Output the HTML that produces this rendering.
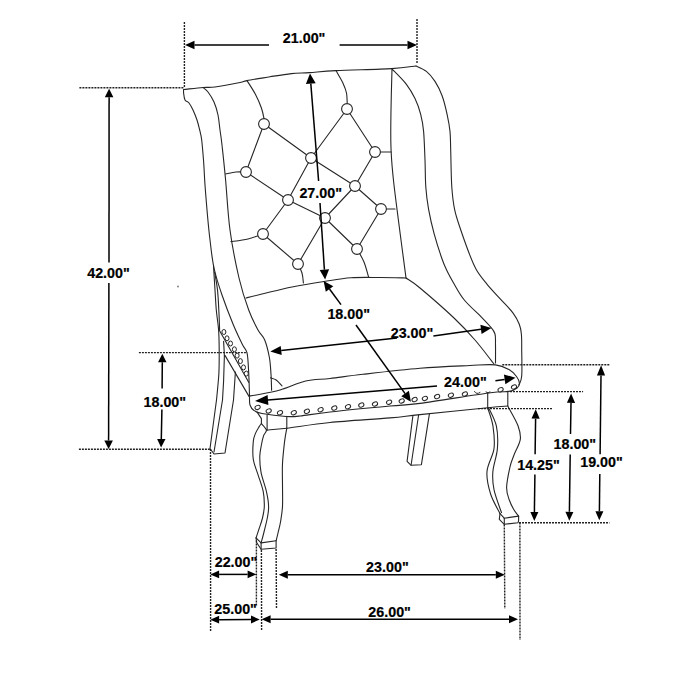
<!DOCTYPE html>
<html><head><meta charset="utf-8"><style>
html,body{margin:0;padding:0;background:#fff;width:700px;height:700px;overflow:hidden}
svg{display:block}
text{font-family:"Liberation Sans",sans-serif}
</style></head><body>
<svg width="700" height="700" viewBox="0 0 700 700"><path d="M183.6,89.5 C186.8,89.2 197.8,87.9 203,87.5 C208.2,87.1 208.8,87.8 215,87 C221.2,86.2 234.7,83.6 240,82.5 C245.3,81.4 242,81.5 247,80.6 C252,79.6 262.6,78 270,76.8 C277.4,75.6 284.8,74.3 291.4,73.6 C298,72.9 302,73.1 309.4,72.6 C316.8,72.1 322.3,71.3 336,70.6 C349.7,69.9 378.2,69.4 391.5,68.6 C404.8,67.8 411.9,66.4 416,66" fill="none" stroke="#262626" stroke-width="1.1" stroke-linejoin="round" stroke-linecap="round"/>
<path d="M416,66 C417.7,66.9 423.2,68.8 426.4,71.4 C429.6,74 432.4,77.4 435,81.4 C437.6,85.5 440.1,90.2 442.1,95.7 C444.1,101.2 445.8,108.3 447.1,114.3 C448.4,120.2 449.4,125.5 450,131.4 C450.6,137.3 450.4,140.7 450.7,150 C451,159.3 451.1,177.1 451.8,187 C452.5,196.9 453.2,202.6 454.6,209.4 C456,216.2 457.6,220.6 460.1,228 C462.6,235.4 466.7,247 469.4,254 C472.1,261 473.6,264.9 476.5,270 C479.4,275.1 483.2,279.5 487.1,284.3 C491,289.1 495.7,293.8 500,298.6 C504.3,303.4 509.7,308.6 512.9,312.9 C516.1,317.2 517.9,320.7 519.3,324.3 C520.7,327.9 521,330 521.4,334.3 C521.8,338.6 521.7,343.1 521.7,350 C521.8,356.9 522.2,370.2 521.7,376 C521.2,381.8 519.5,383.5 519,385" fill="none" stroke="#262626" stroke-width="1.1" stroke-linejoin="round" stroke-linecap="round"/>
<path d="M392,69 C394.4,71.5 402.6,79.4 406.4,84.3 C410.2,89.2 412.6,93.6 415,98.6 C417.4,103.6 419.3,108.8 420.7,114.3 C422.1,119.8 422.9,123.8 423.6,131.4 C424.3,139 424.6,150.7 425,160 C425.4,169.3 425.2,178.8 425.8,187 C426.4,195.2 427.2,201.6 428.6,209.4 C430,217.2 431.9,225.6 434.1,233.6 C436.3,241.6 439.5,251.6 441.6,257.7 C443.7,263.8 444.5,265.6 446.6,270 C448.7,274.4 451.4,279.3 454.3,284.3 C457.2,289.3 459.8,294.5 464.3,300 C468.8,305.5 477,312.6 481.4,317.1 C485.8,321.6 488.4,324.3 490.7,327.1 C493,329.9 494.2,331 495,334 C495.8,337 495.4,340.2 495.5,345 C495.6,349.8 495.5,360 495.5,363" fill="none" stroke="#262626" stroke-width="1.1" stroke-linejoin="round" stroke-linecap="round"/>
<path d="M392,69 C391.8,75.8 391.2,96.8 391,110 C390.8,123.2 390.5,135.5 391,148 C391.5,160.5 391.5,163.3 394,185 C396.5,206.7 404,262.5 406,278" fill="none" stroke="#262626" stroke-width="1.1" stroke-linejoin="round" stroke-linecap="round"/>
<path d="M406,278 C408.3,279.7 412,281.3 420,288 C428,294.7 444.8,309.3 454,318 C463.2,326.7 468.3,332.3 475,340 C481.7,347.7 490.8,360 494,364" fill="none" stroke="#262626" stroke-width="1.1" stroke-linejoin="round" stroke-linecap="round"/>
<path d="M246,298 C248.7,297.3 254.3,295.8 262,294 C269.7,292.2 281.7,289.1 292,287 C302.3,284.9 314.2,283 324,281.5 C333.8,280 341.7,278.5 351,277.8 C360.3,277.1 370.8,277.5 380,277.5 C389.2,277.5 401.7,277.9 406,278" fill="none" stroke="#262626" stroke-width="1.1" stroke-linejoin="round" stroke-linecap="round"/>
<path d="M183.6,89.5 C183.6,90.1 183.4,91.2 183.6,93 C183.8,94.8 184.1,98.3 185,100 C185.9,101.7 187.7,101.3 189,103 C190.3,104.7 191.7,107.2 193,110 C194.3,112.8 195.9,116.7 197,120 C198.1,123.3 198.9,126.7 199.7,130 C200.5,133.3 201.1,135 201.7,140 C202.3,145 202.9,152.5 203.5,160 C204.1,167.5 204.4,176.7 205,185 C205.6,193.3 206.2,200.8 207,210 C207.8,219.2 208.8,230.3 210,240 C211.2,249.7 212,258.8 214,268 C216,277.2 218.8,285.7 222,295 C225.2,304.3 229.6,315.7 233,324 C236.4,332.3 240.1,339.7 242.4,344.6 C244.8,349.5 246.1,348.5 247.1,353.2 C248.1,357.9 248.3,365.9 248.7,373 C249.1,380.1 249.4,392.2 249.5,396" fill="none" stroke="#262626" stroke-width="1.1" stroke-linejoin="round" stroke-linecap="round"/>
<path d="M203,87.5 C203.8,88.2 206.2,89.6 208,92 C209.8,94.4 212.3,98.2 214,102 C215.7,105.8 217,110.3 218,115 C219,119.7 219.3,125 220,130 C220.7,135 221.1,136.7 222,145 C222.9,153.3 224.3,165.8 225.6,180 C226.9,194.2 227.8,213.7 230,230 C232.2,246.3 235.9,264.7 239,278 C242.1,291.3 245.5,301.3 248.7,310 C251.9,318.7 255.3,325 258,330 C260.7,335 262.8,335.5 264.7,340 C266.6,344.5 268.2,351.3 269.3,357 C270.4,362.7 270.6,368.8 271,374.3 C271.4,379.9 271.5,387.6 271.6,390.3" fill="none" stroke="#262626" stroke-width="1.1" stroke-linejoin="round" stroke-linecap="round"/>
<path d="M264,124 L311,158" fill="none" stroke="#262626" stroke-width="1.1" stroke-linejoin="round" stroke-linecap="round"/>
<path d="M264,124 L246,172" fill="none" stroke="#262626" stroke-width="1.1" stroke-linejoin="round" stroke-linecap="round"/>
<path d="M347,109 L311,158" fill="none" stroke="#262626" stroke-width="1.1" stroke-linejoin="round" stroke-linecap="round"/>
<path d="M347,109 L375,152" fill="none" stroke="#262626" stroke-width="1.1" stroke-linejoin="round" stroke-linecap="round"/>
<path d="M311,158 L355,186" fill="none" stroke="#262626" stroke-width="1.1" stroke-linejoin="round" stroke-linecap="round"/>
<path d="M311,158 L288,200" fill="none" stroke="#262626" stroke-width="1.1" stroke-linejoin="round" stroke-linecap="round"/>
<path d="M375,152 L355,186" fill="none" stroke="#262626" stroke-width="1.1" stroke-linejoin="round" stroke-linecap="round"/>
<path d="M246,172 L288,200" fill="none" stroke="#262626" stroke-width="1.1" stroke-linejoin="round" stroke-linecap="round"/>
<path d="M355,186 L381,209" fill="none" stroke="#262626" stroke-width="1.1" stroke-linejoin="round" stroke-linecap="round"/>
<path d="M355,186 L325,218" fill="none" stroke="#262626" stroke-width="1.1" stroke-linejoin="round" stroke-linecap="round"/>
<path d="M288,200 L325,218" fill="none" stroke="#262626" stroke-width="1.1" stroke-linejoin="round" stroke-linecap="round"/>
<path d="M288,200 L263,234" fill="none" stroke="#262626" stroke-width="1.1" stroke-linejoin="round" stroke-linecap="round"/>
<path d="M381,209 L357,249" fill="none" stroke="#262626" stroke-width="1.1" stroke-linejoin="round" stroke-linecap="round"/>
<path d="M325,218 L357,249" fill="none" stroke="#262626" stroke-width="1.1" stroke-linejoin="round" stroke-linecap="round"/>
<path d="M325,218 L298,264" fill="none" stroke="#262626" stroke-width="1.1" stroke-linejoin="round" stroke-linecap="round"/>
<path d="M263,234 L298,264" fill="none" stroke="#262626" stroke-width="1.1" stroke-linejoin="round" stroke-linecap="round"/>
<path d="M375,152 L391,152" fill="none" stroke="#262626" stroke-width="1.1" stroke-linejoin="round" stroke-linecap="round"/>
<path d="M381,209 L395,209" fill="none" stroke="#262626" stroke-width="1.1" stroke-linejoin="round" stroke-linecap="round"/>
<path d="M246,172 C244.3,172 239.4,171.7 236,172 C232.6,172.3 227.3,173.7 225.6,174" fill="none" stroke="#262626" stroke-width="1.1" stroke-linejoin="round" stroke-linecap="round"/>
<path d="M263,234 C260.5,234.8 253.3,237.7 248,239 C242.7,240.3 233.8,241.2 231,241.6" fill="none" stroke="#262626" stroke-width="1.1" stroke-linejoin="round" stroke-linecap="round"/>
<path d="M247,80.6 C248.4,82.9 253,89.7 255.4,94.3 C257.8,98.9 260,104 261.4,108 C262.8,112 263.6,116.8 264,118.5" fill="none" stroke="#262626" stroke-width="1.1" stroke-linejoin="round" stroke-linecap="round"/>
<path d="M336,70.6 C337.1,72.6 341.1,79.2 342.9,82.9 C344.6,86.6 345.8,89.7 346.5,93 C347.2,96.3 347.1,101.3 347.2,103" fill="none" stroke="#262626" stroke-width="1.1" stroke-linejoin="round" stroke-linecap="round"/>
<path d="M357,249 C358.2,251.2 362.1,257.3 364,262 C365.9,266.7 367.8,274.5 368.6,277" fill="none" stroke="#262626" stroke-width="1.1" stroke-linejoin="round" stroke-linecap="round"/>
<path d="M298,264 C298.7,265.5 301.1,269.8 302,273 C302.9,276.2 303.2,281.3 303.4,283" fill="none" stroke="#262626" stroke-width="1.1" stroke-linejoin="round" stroke-linecap="round"/>
<circle cx="264" cy="124" r="5.4" fill="#fff" stroke="#262626" stroke-width="1.1"/>
<circle cx="347" cy="109" r="5.4" fill="#fff" stroke="#262626" stroke-width="1.1"/>
<circle cx="311" cy="158" r="5.4" fill="#fff" stroke="#262626" stroke-width="1.1"/>
<circle cx="375" cy="152" r="5.4" fill="#fff" stroke="#262626" stroke-width="1.1"/>
<circle cx="246" cy="172" r="5.4" fill="#fff" stroke="#262626" stroke-width="1.1"/>
<circle cx="355" cy="186" r="5.4" fill="#fff" stroke="#262626" stroke-width="1.1"/>
<circle cx="288" cy="200" r="5.4" fill="#fff" stroke="#262626" stroke-width="1.1"/>
<circle cx="381" cy="209" r="5.4" fill="#fff" stroke="#262626" stroke-width="1.1"/>
<circle cx="325" cy="218" r="5.4" fill="#fff" stroke="#262626" stroke-width="1.1"/>
<circle cx="263" cy="234" r="5.4" fill="#fff" stroke="#262626" stroke-width="1.1"/>
<circle cx="357" cy="249" r="5.4" fill="#fff" stroke="#262626" stroke-width="1.1"/>
<circle cx="298" cy="264" r="5.4" fill="#fff" stroke="#262626" stroke-width="1.1"/>
<path d="M213.5,266 C213.8,270 214.5,282.7 215,290 C215.5,297.3 215.7,303.3 216.3,310 C216.9,316.7 218.1,323.3 218.6,330 C219.1,336.7 219.1,342.8 219.2,350 C219.2,357.2 219.3,364.7 218.9,373 C218.5,381.3 216.9,395.5 216.5,400" fill="none" stroke="#262626" stroke-width="1.1" stroke-linejoin="round" stroke-linecap="round"/>
<path d="M216.5,400 L210,448.5 L214,454 L225,453 L233.5,400 L235.4,372" fill="none" stroke="#262626" stroke-width="1.1" stroke-linejoin="round" stroke-linecap="round"/>
<path d="M214.6,272 C215.1,275 216.8,283.7 217.5,290 C218.2,296.3 218.5,303.4 218.8,310 C219.2,316.6 219.5,326.3 219.6,329.6" fill="none" stroke="#262626" stroke-width="1.1" stroke-linejoin="round" stroke-linecap="round"/>
<path d="M223.6,341.4 L224.4,355.6" fill="none" stroke="#262626" stroke-width="1.1" stroke-linejoin="round" stroke-linecap="round"/>
<path d="M224.4,355.6 L223.6,381 L222.5,400 L214,452" fill="none" stroke="#262626" stroke-width="1.1" stroke-linejoin="round" stroke-linecap="round"/>
<path d="M218.9,329.6 L248.7,382.3" fill="none" stroke="#262626" stroke-width="1.1" stroke-linejoin="round" stroke-linecap="round"/>
<path d="M225.1,355.6 L249,396.4" fill="none" stroke="#262626" stroke-width="1.1" stroke-linejoin="round" stroke-linecap="round"/>
<ellipse cx="223.9" cy="332" rx="2.0" ry="2.5" transform="rotate(0 223.9 332)" fill="#fff" stroke="#262626" stroke-width="1"/>
<ellipse cx="227" cy="338.3" rx="2.0" ry="2.5" transform="rotate(0 227 338.3)" fill="#fff" stroke="#262626" stroke-width="1"/>
<ellipse cx="230.5" cy="343.5" rx="2.0" ry="2.5" transform="rotate(0 230.5 343.5)" fill="#fff" stroke="#262626" stroke-width="1"/>
<ellipse cx="234.4" cy="349.3" rx="2.0" ry="2.5" transform="rotate(0 234.4 349.3)" fill="#fff" stroke="#262626" stroke-width="1"/>
<ellipse cx="237.1" cy="355.6" rx="2.0" ry="2.5" transform="rotate(0 237.1 355.6)" fill="#fff" stroke="#262626" stroke-width="1"/>
<ellipse cx="240.4" cy="361.1" rx="2.0" ry="2.5" transform="rotate(0 240.4 361.1)" fill="#fff" stroke="#262626" stroke-width="1"/>
<ellipse cx="243.5" cy="367.4" rx="2.0" ry="2.5" transform="rotate(0 243.5 367.4)" fill="#fff" stroke="#262626" stroke-width="1"/>
<ellipse cx="246.3" cy="373.6" rx="2.0" ry="2.5" transform="rotate(0 246.3 373.6)" fill="#fff" stroke="#262626" stroke-width="1"/>
<path d="M249.5,396 C250.6,395.8 250.9,396 256,395 C261.1,394 271.7,392.3 280,390 C288.3,387.7 297.4,382.9 305.7,381 C314,379.1 320.4,379.6 330,378.5 C339.6,377.4 348,376 363,374.3 C378,372.6 402.2,369.8 420,368.3 C437.8,366.8 457.4,366.1 470,365.5 C482.6,364.9 488.9,364.2 495.4,364.9 C501.9,365.6 505.5,367.6 509,369.5 C512.5,371.4 514.8,374.2 516.5,376.5 C518.2,378.8 519.3,381.1 519.4,383 C519.5,384.9 518.7,386.6 517,388 C515.3,389.4 513.7,390.6 509,391.4 C504.3,392.2 503.4,391 488.6,393 C473.8,395 436.4,401.2 420,403.4 C403.6,405.6 405,404.6 390,406 C375,407.4 345,410.3 330,412 C315,413.7 307.3,415.2 300,416 C292.7,416.8 292.3,416.9 286,416.5 C279.7,416.1 267.3,414.5 262,413.5 C256.7,412.5 256,411.9 254,410.5 C252,409.1 250.8,407.4 250,405 C249.2,402.6 249.6,397.5 249.5,396" fill="none" stroke="#262626" stroke-width="1.1" stroke-linejoin="round" stroke-linecap="round"/>
<path d="M270.5,377.8 C271.4,378.2 274.3,378.7 276.2,380 C278.1,381.3 281,384.8 282,385.8" fill="none" stroke="#262626" stroke-width="1.1" stroke-linejoin="round" stroke-linecap="round"/>
<ellipse cx="257.6" cy="407.4" rx="2.7" ry="2.0" transform="rotate(-25 257.6 407.4)" fill="#fff" stroke="#262626" stroke-width="1"/>
<ellipse cx="268.7" cy="410.9" rx="2.7" ry="2.0" transform="rotate(-25 268.7 410.9)" fill="#fff" stroke="#262626" stroke-width="1"/>
<ellipse cx="280" cy="412.7" rx="2.7" ry="2.0" transform="rotate(-25 280 412.7)" fill="#fff" stroke="#262626" stroke-width="1"/>
<ellipse cx="293.8" cy="412.7" rx="2.7" ry="2.0" transform="rotate(-25 293.8 412.7)" fill="#fff" stroke="#262626" stroke-width="1"/>
<ellipse cx="306.9" cy="411.3" rx="2.7" ry="2.0" transform="rotate(-25 306.9 411.3)" fill="#fff" stroke="#262626" stroke-width="1"/>
<ellipse cx="320.6" cy="409.7" rx="2.7" ry="2.0" transform="rotate(-25 320.6 409.7)" fill="#fff" stroke="#262626" stroke-width="1"/>
<ellipse cx="334.3" cy="408.1" rx="2.7" ry="2.0" transform="rotate(-25 334.3 408.1)" fill="#fff" stroke="#262626" stroke-width="1"/>
<ellipse cx="348" cy="406.7" rx="2.7" ry="2.0" transform="rotate(-25 348 406.7)" fill="#fff" stroke="#262626" stroke-width="1"/>
<ellipse cx="361.3" cy="405.1" rx="2.7" ry="2.0" transform="rotate(-25 361.3 405.1)" fill="#fff" stroke="#262626" stroke-width="1"/>
<ellipse cx="375" cy="404" rx="2.7" ry="2.0" transform="rotate(-25 375 404)" fill="#fff" stroke="#262626" stroke-width="1"/>
<ellipse cx="389.1" cy="402.2" rx="2.7" ry="2.0" transform="rotate(-25 389.1 402.2)" fill="#fff" stroke="#262626" stroke-width="1"/>
<ellipse cx="401.7" cy="401" rx="2.7" ry="2.0" transform="rotate(-25 401.7 401)" fill="#fff" stroke="#262626" stroke-width="1"/>
<ellipse cx="414.6" cy="399.6" rx="2.7" ry="2.0" transform="rotate(-25 414.6 399.6)" fill="#fff" stroke="#262626" stroke-width="1"/>
<ellipse cx="424.9" cy="398.4" rx="2.7" ry="2.0" transform="rotate(-25 424.9 398.4)" fill="#fff" stroke="#262626" stroke-width="1"/>
<ellipse cx="437.1" cy="396.6" rx="2.7" ry="2.0" transform="rotate(-25 437.1 396.6)" fill="#fff" stroke="#262626" stroke-width="1"/>
<ellipse cx="450.9" cy="395.2" rx="2.7" ry="2.0" transform="rotate(-25 450.9 395.2)" fill="#fff" stroke="#262626" stroke-width="1"/>
<ellipse cx="464.9" cy="394" rx="2.7" ry="2.0" transform="rotate(-25 464.9 394)" fill="#fff" stroke="#262626" stroke-width="1"/>
<ellipse cx="500.6" cy="389.7" rx="2.7" ry="2.0" transform="rotate(-25 500.6 389.7)" fill="#fff" stroke="#262626" stroke-width="1"/>
<ellipse cx="514" cy="387" rx="2.7" ry="2.0" transform="rotate(-25 514 387)" fill="#fff" stroke="#262626" stroke-width="1"/>
<path d="M474.5,391.5 Q476.5,395 480,392.5" fill="none" stroke="#262626" stroke-width="1.0" stroke-linejoin="round" stroke-linecap="round"/>
<path d="M486,392 Q488,394 490,392" fill="none" stroke="#262626" stroke-width="1.0" stroke-linejoin="round" stroke-linecap="round"/>
<path d="M257.1,412.1 L261.4,418.6 L261.4,423.6" fill="none" stroke="#262626" stroke-width="1.1" stroke-linejoin="round" stroke-linecap="round"/>
<path d="M266.4,430 L267.1,430" fill="none" stroke="#262626" stroke-width="1.1" stroke-linejoin="round" stroke-linecap="round"/>
<path d="M267.1,430 C270.4,429.7 276.3,429.4 286.8,428.2 C297.3,426.9 312.8,424.2 330,422.5 C347.2,420.8 375,419.2 390,417.9 C405,416.6 403.7,416.3 420,414.6 C436.3,412.9 473.1,409.1 487.7,407.7 C502.3,406.3 504.4,406.3 507.8,406" fill="none" stroke="#262626" stroke-width="1.1" stroke-linejoin="round" stroke-linecap="round"/>
<path d="M267.1,415 L267.1,430" fill="none" stroke="#262626" stroke-width="1.1" stroke-linejoin="round" stroke-linecap="round"/>
<path d="M286.8,416.4 L286.8,428.2" fill="none" stroke="#262626" stroke-width="1.1" stroke-linejoin="round" stroke-linecap="round"/>
<path d="M487.7,393 L487.7,407.7" fill="none" stroke="#262626" stroke-width="1.1" stroke-linejoin="round" stroke-linecap="round"/>
<path d="M507.8,391.4 L507.8,406" fill="none" stroke="#262626" stroke-width="1.1" stroke-linejoin="round" stroke-linecap="round"/>
<path d="M261.4,423.6 C261,424.1 260.2,424.8 259.3,426.4 C258.4,427.9 256.7,430.4 255.7,432.9 C254.7,435.4 253.7,437 253.3,441.4 C252.9,445.8 252.5,453.8 253.3,459.3 C254.1,464.8 256.2,469 257.9,474.3 C259.5,479.6 262.1,486 263.2,491.4 C264.3,496.8 264.4,502 264.3,506.4 C264.2,510.8 263.4,514.2 262.5,518 C261.6,521.8 260.1,525.7 259,529 C257.9,532.3 256.6,536.4 256.1,537.9" fill="none" stroke="#262626" stroke-width="1.1" stroke-linejoin="round" stroke-linecap="round"/>
<path d="M261.4,423.6 C262.2,424.7 266,428 266.4,430 C266.8,432 264.4,433.2 263.6,435.7 C262.8,438.2 262,441.6 261.4,445 C260.8,448.4 259.9,451.5 259.8,456 C259.7,460.5 259.9,466.2 261,472.1 C262.1,478 265.1,485.7 266.4,491.4 C267.7,497.1 268.5,502 268.6,506.4 C268.8,510.8 268,514.1 267.3,518 C266.6,521.9 265.5,525.9 264.5,530 C263.5,534.1 261.7,540.8 261.1,542.9" fill="none" stroke="#262626" stroke-width="1.1" stroke-linejoin="round" stroke-linecap="round"/>
<path d="M286.8,428.2 C286.4,430.4 285.3,435.5 284.6,441.4 C283.9,447.3 282.9,456.3 282.5,463.6 C282.1,470.9 282.5,477.9 282.5,485 C282.5,492.1 282.8,500.2 282.5,506.4 C282.2,512.6 281.2,517.6 280.5,522 C279.8,526.4 278.7,529.9 278,533 C277.3,536.1 276.4,539.4 276.1,540.7" fill="none" stroke="#262626" stroke-width="1.1" stroke-linejoin="round" stroke-linecap="round"/>
<path d="M256.1,537.9 L261.1,542.9 L276.1,540.7" fill="none" stroke="#262626" stroke-width="1.1" stroke-linejoin="round" stroke-linecap="round"/>
<path d="M256.1,537.9 L256.6,542.5 L261.1,549.3 L276.1,548 L276.1,540.7" fill="none" stroke="#262626" stroke-width="1.1" stroke-linejoin="round" stroke-linecap="round"/>
<path d="M261.1,542.9 L261.1,549.3" fill="none" stroke="#262626" stroke-width="1.1" stroke-linejoin="round" stroke-linecap="round"/>
<path d="M412.9,415.6 L407.1,461.3 L411.1,465.3 L421.4,464.7 L429.4,413.9" fill="none" stroke="#262626" stroke-width="1.1" stroke-linejoin="round" stroke-linecap="round"/>
<path d="M418.6,415 L411.1,465" fill="none" stroke="#262626" stroke-width="1.1" stroke-linejoin="round" stroke-linecap="round"/>
<path d="M487.7,408 C488.6,410.9 491.8,418.9 492.9,425.7 C493.9,432.5 495,441 494,448.6 C493,456.2 487.6,463.8 487,471.4 C486.4,479 488.4,487 490.6,494 C492.8,501 498.4,510.3 500,513.6" fill="none" stroke="#262626" stroke-width="1.1" stroke-linejoin="round" stroke-linecap="round"/>
<path d="M488.6,407.7 C489.9,410.7 494.8,418.9 496.3,425.7 C497.8,432.5 498,441 497.4,448.6 C496.8,456.2 493.5,464.5 492.9,471.4 C492.3,478.2 492.6,482.8 494,489.7 C495.4,496.6 500.2,508.8 501.5,512.6" fill="none" stroke="#262626" stroke-width="1.1" stroke-linejoin="round" stroke-linecap="round"/>
<path d="M508,406.5 C509.7,409.7 516,420.2 518,425.7 C520,431.2 521,434.5 520.3,439.4 C519.6,444.3 515.7,450.4 514,455 C512.3,459.6 511.2,461.5 510,466.9 C508.8,472.3 506.7,481.9 506.6,487.4 C506.5,492.9 508.1,496.4 509.3,500 C510.5,503.6 512.1,506.6 513.6,509.3 C515.1,512 517.8,515 518.6,516.1" fill="none" stroke="#262626" stroke-width="1.1" stroke-linejoin="round" stroke-linecap="round"/>
<path d="M500,513.6 L504.3,518.2 L518.6,516.1" fill="none" stroke="#262626" stroke-width="1.1" stroke-linejoin="round" stroke-linecap="round"/>
<path d="M500,513.6 L499.3,519.3 L504.3,524.3 L518,522.8 L518.6,520.7 L518.6,516.1" fill="none" stroke="#262626" stroke-width="1.1" stroke-linejoin="round" stroke-linecap="round"/>
<path d="M504.3,518.2 L504.3,524.3" fill="none" stroke="#262626" stroke-width="1.1" stroke-linejoin="round" stroke-linecap="round"/>
<circle cx="178" cy="286.5" r="0.9" fill="#777"/>
<line x1="184.4" y1="22" x2="184.4" y2="88" stroke="#222" stroke-width="1.4" stroke-dasharray="2,1"/>
<line x1="417" y1="19" x2="417" y2="64" stroke="#222" stroke-width="1.4" stroke-dasharray="2,1"/>
<path d="M185,45 L194.5,40.8 L194.5,49.2 Z" fill="#000"/>
<line x1="194.5" y1="45" x2="269" y2="45" stroke="#000" stroke-width="1.5"/>
<path d="M417,45 L407.5,49.2 L407.5,40.8 Z" fill="#000"/>
<line x1="339.6" y1="45" x2="407.5" y2="45" stroke="#000" stroke-width="1.5"/>
<text x="304.1" y="43.3" text-anchor="middle" font-family="Liberation Sans" font-weight="bold" font-size="14.3" fill="#000" stroke="#000" stroke-width="0.2">21.00"</text>
<line x1="79.4" y1="87.8" x2="183.4" y2="87.8" stroke="#222" stroke-width="1.4" stroke-dasharray="2,1"/>
<line x1="78.9" y1="449.3" x2="210.9" y2="449.3" stroke="#222" stroke-width="1.4" stroke-dasharray="2,1"/>
<path d="M109.1,88.7 L113.4,97.3 L104.8,97.3 Z" fill="#000"/>
<line x1="109" y1="262.6" x2="109.1" y2="97.3" stroke="#000" stroke-width="1.5"/>
<path d="M108.6,449 L104.3,440.4 L112.9,440.4 Z" fill="#000"/>
<line x1="108.9" y1="283" x2="108.6" y2="440.4" stroke="#000" stroke-width="1.5"/>
<text x="108.5" y="277.8" text-anchor="middle" font-family="Liberation Sans" font-weight="bold" font-size="14.3" fill="#000" stroke="#000" stroke-width="0.2">42.00"</text>
<line x1="138.9" y1="352.6" x2="247.1" y2="352.6" stroke="#222" stroke-width="1.4" stroke-dasharray="2,1"/>
<path d="M162.3,353.7 L166.5,362.3 L158.1,362.3 Z" fill="#000"/>
<line x1="162.1" y1="388.4" x2="162.3" y2="362.3" stroke="#000" stroke-width="1.5"/>
<path d="M161.1,447.6 L157.1,438.9 L165.5,439.1 Z" fill="#000"/>
<line x1="161.9" y1="409.4" x2="161.3" y2="439" stroke="#000" stroke-width="1.5"/>
<text x="164.8" y="406.7" text-anchor="middle" font-family="Liberation Sans" font-weight="bold" font-size="14.3" fill="#000" stroke="#000" stroke-width="0.2">18.00"</text>
<line x1="210.5" y1="449" x2="210.6" y2="631" stroke="#222" stroke-width="1.4" stroke-dasharray="2,1"/>
<path d="M310,73.6 L315.7,83.2 L305.9,84 Z" fill="#000"/>
<line x1="310.8" y1="83.6" x2="318.6" y2="181" stroke="#000" stroke-width="1.5"/>
<path d="M325.1,279.6 L319.7,269.9 L329.1,269.3 Z" fill="#000"/>
<line x1="320" y1="203" x2="324.4" y2="269.6" stroke="#000" stroke-width="1.5"/>
<text x="320.7" y="197.8" text-anchor="middle" font-family="Liberation Sans" font-weight="bold" font-size="14.3" fill="#000" stroke="#000" stroke-width="0.2">27.00"</text>
<path d="M323.6,281 L333.3,286.3 L325.8,291.8 Z" fill="#000"/>
<line x1="329.5" y1="289" x2="341" y2="304.6" stroke="#000" stroke-width="1.5"/>
<path d="M410.9,401.7 L401.3,396.3 L408.9,390.8 Z" fill="#000"/>
<line x1="356" y1="325" x2="405.1" y2="393.6" stroke="#000" stroke-width="1.5"/>
<text x="348.7" y="319.3" text-anchor="middle" font-family="Liberation Sans" font-weight="bold" font-size="14.3" fill="#000" stroke="#000" stroke-width="0.2">18.00"</text>
<path d="M270.3,351.6 L280.7,345.9 L281.7,355 Z" fill="#000"/>
<line x1="281.2" y1="350.4" x2="397" y2="338" stroke="#000" stroke-width="1.5"/>
<text x="412" y="338.2" text-anchor="middle" font-family="Liberation Sans" font-weight="bold" font-size="14.3" fill="#000" stroke="#000" stroke-width="0.2">23.00"</text>
<path d="M491.4,327.9 L481.6,333.9 L480.4,324.8 Z" fill="#000"/>
<line x1="433.4" y1="335.9" x2="481" y2="329.3" stroke="#000" stroke-width="1.5"/>
<path d="M255,401.1 L267.6,395.1 L268.4,404.9 Z" fill="#000"/>
<line x1="268" y1="400" x2="437" y2="386" stroke="#000" stroke-width="1.5"/>
<path d="M515.5,377.7 L505.4,384.3 L503.9,374.4 Z" fill="#000"/>
<line x1="495.4" y1="380.8" x2="504.6" y2="379.4" stroke="#000" stroke-width="1.5"/>
<text x="465.4" y="386.7" text-anchor="middle" font-family="Liberation Sans" font-weight="bold" font-size="14.3" fill="#000" stroke="#000" stroke-width="0.2">24.00"</text>
<line x1="502.3" y1="364.8" x2="609.3" y2="364.8" stroke="#222" stroke-width="1.4" stroke-dasharray="2,1"/>
<line x1="510" y1="391.6" x2="583.1" y2="391.6" stroke="#222" stroke-width="1.4" stroke-dasharray="2,1"/>
<line x1="478" y1="408.6" x2="552" y2="408.6" stroke="#222" stroke-width="1.4" stroke-dasharray="2,1"/>
<line x1="519" y1="522.7" x2="609.4" y2="522.7" stroke="#222" stroke-width="1.4" stroke-dasharray="2,1"/>
<path d="M535.7,409.2 L539.7,418.8 L531.5,418.6 Z" fill="#000"/>
<line x1="535.1" y1="454.3" x2="535.6" y2="418.7" stroke="#000" stroke-width="1.5"/>
<path d="M534.3,521 L530.4,512 L538.4,512.1 Z" fill="#000"/>
<line x1="534.9" y1="474.4" x2="534.4" y2="512" stroke="#000" stroke-width="1.5"/>
<text x="538.5" y="469.5" text-anchor="middle" font-family="Liberation Sans" font-weight="bold" font-size="14.3" fill="#000" stroke="#000" stroke-width="0.2">14.25"</text>
<path d="M571.1,393.4 L575.1,403 L566.9,402.8 Z" fill="#000"/>
<line x1="570.5" y1="433.9" x2="571" y2="402.9" stroke="#000" stroke-width="1.5"/>
<path d="M569.3,520.8 L565.4,511.7 L573.4,511.9 Z" fill="#000"/>
<line x1="570.2" y1="454.4" x2="569.4" y2="511.8" stroke="#000" stroke-width="1.5"/>
<text x="574.8" y="448.7" text-anchor="middle" font-family="Liberation Sans" font-weight="bold" font-size="14.3" fill="#000" stroke="#000" stroke-width="0.2">18.00"</text>
<path d="M601.1,365.3 L605.1,375.6 L596.9,375.6 Z" fill="#000"/>
<line x1="600.1" y1="454.2" x2="601" y2="375.6" stroke="#000" stroke-width="1.5"/>
<path d="M599.3,520.3 L595.4,511.3 L603.4,511.3 Z" fill="#000"/>
<line x1="599.8" y1="474.1" x2="599.4" y2="511.3" stroke="#000" stroke-width="1.5"/>
<text x="601.5" y="467.3" text-anchor="middle" font-family="Liberation Sans" font-weight="bold" font-size="14.3" fill="#000" stroke="#000" stroke-width="0.2">19.00"</text>
<line x1="256.4" y1="540.5" x2="256.4" y2="606" stroke="#222" stroke-width="1.4" stroke-dasharray="2,1"/>
<line x1="261.4" y1="550" x2="261.6" y2="631" stroke="#222" stroke-width="1.4" stroke-dasharray="2,1"/>
<line x1="276.1" y1="549" x2="276.5" y2="609" stroke="#222" stroke-width="1.4" stroke-dasharray="2,1"/>
<line x1="504.3" y1="524.5" x2="504.8" y2="608.8" stroke="#222" stroke-width="1.4" stroke-dasharray="2,1"/>
<line x1="519.9" y1="522.5" x2="520" y2="640" stroke="#222" stroke-width="1.4" stroke-dasharray="2,1"/>
<path d="M210.3,574.4 L219.1,570.5 L219.1,578.3 Z" fill="#000"/>
<path d="M256.4,574.4 L247.6,578.3 L247.6,570.5 Z" fill="#000"/>
<line x1="219.1" y1="574.4" x2="247.6" y2="574.4" stroke="#000" stroke-width="1.5"/>
<text x="236" y="567" text-anchor="middle" font-family="Liberation Sans" font-weight="bold" font-size="14.3" fill="#000" stroke="#000" stroke-width="0.2">22.00"</text>
<path d="M278.8,574.7 L287.8,570.7 L287.8,578.7 Z" fill="#000"/>
<path d="M504.8,574.7 L495.8,578.7 L495.8,570.7 Z" fill="#000"/>
<line x1="287.8" y1="574.7" x2="495.8" y2="574.7" stroke="#000" stroke-width="1.5"/>
<text x="387.4" y="572.4" text-anchor="middle" font-family="Liberation Sans" font-weight="bold" font-size="14.3" fill="#000" stroke="#000" stroke-width="0.2">23.00"</text>
<path d="M210.3,619.7 L219.1,615.8 L219.1,623.6 Z" fill="#000"/>
<path d="M259.8,619.5 L251,623.4 L251,615.6 Z" fill="#000"/>
<line x1="219.1" y1="619.7" x2="251" y2="619.5" stroke="#000" stroke-width="1.5"/>
<text x="235.6" y="614.4" text-anchor="middle" font-family="Liberation Sans" font-weight="bold" font-size="14.3" fill="#000" stroke="#000" stroke-width="0.2">25.00"</text>
<path d="M261.6,619.3 L270.6,615.3 L270.6,623.3 Z" fill="#000"/>
<path d="M518,619.3 L509,623.3 L509,615.3 Z" fill="#000"/>
<line x1="270.6" y1="619.3" x2="509" y2="619.3" stroke="#000" stroke-width="1.5"/>
<text x="389.6" y="616.6" text-anchor="middle" font-family="Liberation Sans" font-weight="bold" font-size="14.3" fill="#000" stroke="#000" stroke-width="0.2">26.00"</text></svg>
</body></html>
